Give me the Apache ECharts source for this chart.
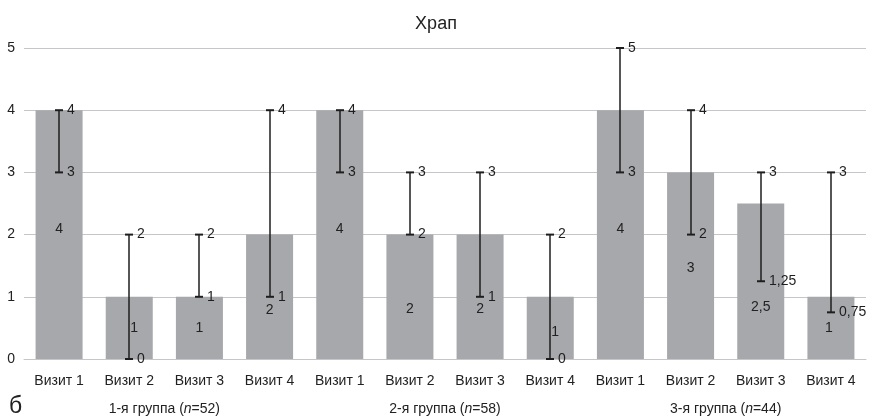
<!DOCTYPE html>
<html>
<head>
<meta charset="utf-8">
<script src="https://cdn.jsdelivr.net/npm/echarts@6/dist/echarts.min.js"></script>
<style>html,body{margin:0;padding:0;background:#fff}#c{width:872px;height:420px}</style>
</head>
<body>
<div id="c"></div>
<script>
var categories = ['Визит 1','Визит 2','Визит 3','Визит 4','Визит 1','Визит 2','Визит 3','Визит 4','Визит 1','Визит 2','Визит 3','Визит 4'];
var groups = ['1-я группа (n=52)','2-я группа (n=58)','3-я группа (n=44)'];
var meanValues = [4, 1, 1, 2, 4, 2, 2, 1, 4, 3, 2.5, 1];
var lowValues  = [3, 0, 1, 1, 3, 2, 1, 0, 3, 2, 1.25, 0.75];
var highValues = [4, 2, 2, 4, 4, 3, 3, 2, 5, 4, 3, 3];
var yTicks = [0, 1, 2, 3, 4, 5];

// label placement tweaks (styling, not data)
var labelOffsets = [[0,-5],[5,0],[0,0],[0,13],[0,-5],[0,12],[0,12],[5,4],[0,-5],[0,2],[0,26],[-2,0]];

var FONT = '"Liberation Sans", Arial, sans-serif';
function fmt(v){ return String(v).replace('.', ','); }

var barData = meanValues.map(function(v, i){
  return { value: v, label: { offset: labelOffsets[i] } };
});
var errData = categories.map(function(c, i){ return [i, lowValues[i], highValues[i]]; });

var chart = echarts.init(document.getElementById('c'), null, {renderer:'canvas'});
chart.setOption({
  animation: false,
  backgroundColor: '#fff',
  title: {
    text: 'Храп', left: 'center', top: 10,
    textStyle: { fontFamily: FONT, fontSize: 18, fontWeight: 'normal', color: '#222' }
  },
  grid: { left: 24, right: 6, top: 48, bottom: 61, containLabel: false },
  xAxis: [{
    type: 'category', data: categories, position: 'bottom',
    axisLine: { show: true, lineStyle: { color: '#c6c6ca', width: 1 } },
    axisTick: { show: false },
    axisLabel: { interval: 0, margin: 15, fontFamily: FONT, fontSize: 14, color: '#222' }
  }, {
    type: 'category', data: groups, position: 'bottom',
    axisLine: { show: false }, axisTick: { show: false },
    axisLabel: {
      interval: 0, margin: 43, fontFamily: FONT, fontSize: 14, color: '#222',
      formatter: function(v){ return v.replace(/\(n=/, '({i|n}='); },
      rich: { i: { fontStyle: 'italic', fontFamily: FONT, fontSize: 14, color: '#222' } }
    }
  }],
  yAxis: {
    type: 'value', min: yTicks[0], max: yTicks[yTicks.length-1], interval: 1,
    axisLine: { show: false }, axisTick: { show: false },
    axisLabel: { margin: 9, fontFamily: FONT, fontSize: 14, color: '#222' },
    splitLine: { lineStyle: { color: '#c6c6ca', width: 1 } }
  },
  graphic: [{
    type: 'text', left: 9, top: 395,
    style: { text: 'б', font: '23px ' + FONT, fill: '#222' }
  }],
  series: [{
    type: 'bar', data: barData, xAxisIndex: 0,
    barCategoryGap: '33%',
    itemStyle: { color: '#a7a8ab' },
    label: {
      show: true, position: 'inside', fontFamily: FONT, fontSize: 14, color: '#222',
      formatter: function(p){ return fmt(p.value); }
    }
  }, {
    type: 'custom', xAxisIndex: 0, data: errData, clip: false, z: 5,
    renderItem: function(params, api){
      var x = api.value(0), lo = api.value(1), hi = api.value(2);
      var pLo = api.coord([x, lo]), pHi = api.coord([x, hi]);
      var cx = Math.round(pLo[0]);
      var st = { stroke: '#1e1e1e', lineWidth: 1.5 };
      var cap = { stroke: '#1e1e1e', lineWidth: 2 };
      return { type: 'group', children: [
        { type: 'line', shape: { x1: cx, y1: pLo[1], x2: cx, y2: pHi[1] }, style: st },
        { type: 'line', shape: { x1: cx-4, y1: pHi[1], x2: cx+4, y2: pHi[1] }, style: cap },
        { type: 'line', shape: { x1: cx-4, y1: pLo[1], x2: cx+4, y2: pLo[1] }, style: cap },
        { type: 'text', x: cx + 8, y: pHi[1], style: { text: fmt(hi), verticalAlign: 'middle', align: 'left', fill: '#1e1e1e', font: '14px ' + FONT } },
        { type: 'text', x: cx + 8, y: pLo[1], style: { text: fmt(lo), verticalAlign: 'middle', align: 'left', fill: '#1e1e1e', font: '14px ' + FONT } }
      ]};
    }
  }]
});
</script>
</body>
</html>
